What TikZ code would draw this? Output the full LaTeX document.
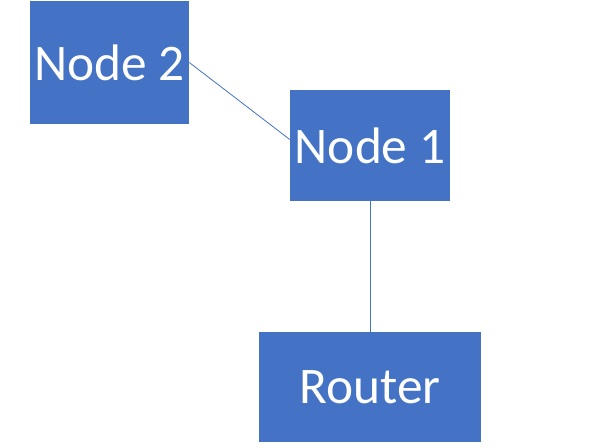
\documentclass[tikz,border=0pt]{standalone}
\usepackage{fontspec}
\setmainfont{Carlito}
\usepackage{xcolor}
\usepackage{tikz}
\usetikzlibrary{positioning}
\definecolor{boxblue}{HTML}{4472C4}

\begin{document}
\begin{tikzpicture}[x=0.75pt,y=-0.75pt,every node/.style={font=\fontsize{38.5}{46}\selectfont,text=white,inner sep=0pt},box/.style={fill=boxblue,draw=none},link/.style={draw=boxblue,line width=0.6pt}]
\useasboundingbox (0,0) rectangle (606,448);
\node[box,minimum width=119.25pt,minimum height=92.25pt] (node2) at (109.5,62.5) {Node 2};
\node[box,minimum width=120pt,minimum height=83.25pt] (node1) at (370,145.5) {Node 1};
\node[box,minimum width=166.5pt,minimum height=82.5pt] (router) at (370,387) {Router};
\draw[link] (node2.east)--([yshift=4.5pt]node1.west);
\draw[link] (node1.south)--(router.north);
\end{tikzpicture}
\end{document}
